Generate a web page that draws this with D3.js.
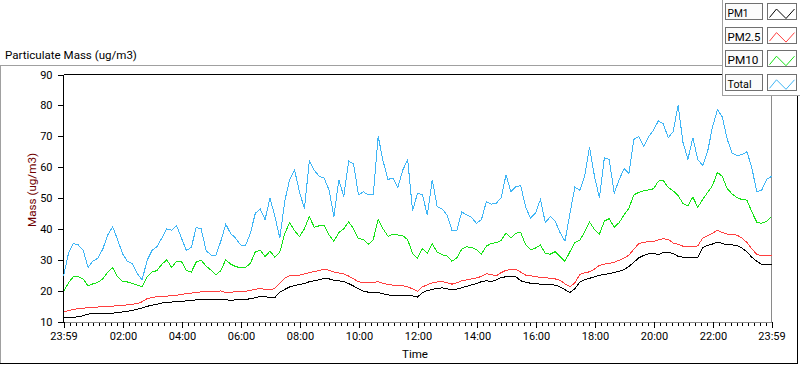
<!DOCTYPE html>
<html><head><meta charset="utf-8">
<script src="https://cdn.jsdelivr.net/npm/d3@7"></script>
<style>
body{margin:0;background:#fff}
svg{display:block}
text{font-family:Roboto,"Liberation Sans",sans-serif;fill:#000}
</style>
</head><body>
<svg id="chart" width="800" height="365"></svg>
<script>
// ---- data (10-minute samples starting at 23:59) ----
const startLabel = "23:59";
const stepMinutes = 10;
const seriesNames = ["PM1", "PM2.5", "PM10", "Total"];
const seriesColors = ["#000000", "#ff3f3f", "#16e316", "#3fb5f5"];
const pm1 = [11.2,11.3,11.4,11.5,11.9,12.4,12.5,12.6,12.6,12.6,12.7,12.9,13.1,13.3,13.6,14,14.4,14.9,15.3,15.6,16,16.1,16.3,16.4,16.5,16.7,16.8,17,17.1,17.1,17.1,17.1,17.1,17,16.9,17,17.1,17.1,17.4,17.7,18.1,18.1,17.6,17.8,19.5,20.4,21.2,21.6,22,22.3,22.9,23.2,23.5,24,23.8,23.4,23.2,22.9,22.3,21.5,20.6,19.8,19.5,19.4,19.4,19,18.6,18.5,18.5,18.5,18.5,18.3,17.9,19.4,20,20.4,20.7,20.9,20.6,20.2,20.5,20.9,21.4,21.9,22.3,22.9,23.2,22.9,23.4,24.2,24.5,24.5,24.5,23.2,22.7,22.4,22.3,22.1,22,21.9,21.8,21.2,20.3,19.4,20.6,22.7,23.5,24,24.5,25,25.2,25.5,25.9,26.2,26.8,27.8,29.2,30.6,31.4,31.9,32.1,31.6,32.4,32.4,32,31.1,30.8,30.6,30.7,30.8,34,34.6,35.1,35.7,35.3,34.8,34.8,34.6,33.8,32.6,30.8,29.5,28.5,28.5,28.5];
const pm25 = [13,13.5,13.9,14.2,14.3,14.5,14.6,14.7,14.9,15,15,15.1,15.2,15.4,15.6,15.8,16.4,17.4,17.8,18,18.2,18.2,18.4,18.5,18.8,19,19.2,19.4,19.6,19.6,19.6,19.7,19.9,19.4,19.5,19.6,19.6,19.8,20.1,20.4,20.7,20.4,20.2,20.8,22.4,24.1,24.8,25,25,25.4,25.8,26.2,26.5,27,26.6,26,25.7,25.4,24.7,23.8,22.9,22.6,22.5,22.6,22.9,22.4,21.9,21.8,21.8,21.6,21.2,20.6,19.8,21.2,21.9,22.5,22.8,22.9,22.6,22.1,22.5,23.2,23.5,23.8,24.1,24.6,25.5,25.2,24.8,25.8,26.6,26.8,26.9,26,25,24.8,24.5,24.3,24.2,24,23.8,23.3,22.2,21.3,22.5,25.2,25.8,26.1,27,28.2,28.6,28.8,29.2,29.8,30.5,31.5,33.4,35.2,35.7,35.8,35.8,36.5,36.8,36.6,35.4,35,34.4,34.2,34.3,34.5,37,37.8,38.6,39.6,38.8,38.3,38.1,38,37,35.6,33.5,31.8,31.3,31.4,31.5];
const pm10 = [19.6,22.5,24.5,24.5,23.8,21.5,22.2,22.7,23.8,26,27.4,24.5,23,22.8,22.3,21.8,21.2,24.5,26,26.5,28.5,30,27.5,29.5,29.4,26.5,26,29.3,29.8,28,26.6,25,26.5,30,28.6,27.8,27.4,27.5,28.8,32.5,33.1,31,32.8,30.8,32.5,38.5,42,39.4,37.5,40,44,40.5,41,41.2,38,36,38.8,40,42.3,40,36.8,36.6,35,36.5,43,40,37.6,38.2,38,37.8,36.5,32,30.5,33.6,32.2,35.2,32.5,31.6,31.3,29.5,30.6,33.4,34.2,34,33.3,31.8,34.4,35.3,35.5,36.2,38.7,37,38.6,38.8,34.8,33.2,33.8,34.8,32,31.8,32.6,31,29.5,32.6,35.5,36.3,39,42.2,39.8,38.3,42.5,43.3,40.5,42,44.5,46.7,51,51.8,52.3,52.6,53,55.5,55.6,53.4,52.3,50.8,48.2,47.5,50.3,47,49.5,51.8,54,58.3,57,53,51.3,50.1,49.5,49.3,45.5,42.2,41.8,42.5,44];
const total = [24.6,32,35.3,34.8,33,27.5,29.6,30.5,33.5,38,40.7,36.5,32,29.5,28.8,25.5,23.5,29.8,33,34.2,37,40,39.6,41,37,33,34,40.5,40,33,31.5,31.5,36,41.5,38.5,37,34.8,34.5,38.5,45,46.5,43,50,44,37,49,56,59,52,46.5,62,59,57,56.5,52.6,44,55.9,50.5,62,61,51,52,51,51,70,62,56,56.5,53.5,59,62.5,45.8,51.6,51,44.5,55.9,47.2,46.5,44.5,39.6,39.5,45.5,44.5,43.7,41.8,43,48.8,48,48.3,50,57.5,52,53.7,54,47,43.5,45.1,49.5,42,44,42.5,38.8,36,45,53.5,52.5,57,66.5,57,50,63,62.5,51.5,55.9,59.5,58,69,69.9,66.7,69.8,72,75,74,69.5,71.5,80,68,62.5,69.5,62.5,60.5,65,73,78.6,76.2,69,64.5,63.8,64,65,59.8,52,52.5,56,57];
const yTicks = [10, 20, 30, 40, 50, 60, 70, 80, 90];
const xTickLabels = ["23:59","02:00","04:00","06:00","08:00","10:00","12:00","14:00","16:00","18:00","20:00","22:00","23:59"];
const chartTitle = "Particulate Mass (ug/m3)";
const yTitle = "Mass (ug/m3)";
const xTitle = "Time";

// ---- layout ----
const svg = d3.select("#chart");
const L = 63.5, R = 771.5, T = 74.5, B = 321.5;

const [sh, sm] = startLabel.split(":").map(Number);
const t0 = new Date(2020, 0, 1, sh, sm);
const tEnd = d3.timeMinute.offset(t0, 1440);
const x = d3.scaleTime().domain([t0, tEnd]).range([L, R]);
const y = d3.scaleLinear().domain([10, 90]).range([B, T]);

function fitText(sel, w) {
  const n = sel.node();
  const fs = parseFloat(sel.attr("font-size"));
  const cur = n.getComputedTextLength();
  if (cur > 0) sel.attr("font-size", (fs * w / cur).toFixed(2));
}
function line(x1, y1, x2, y2, c) {
  svg.append("line").attr("x1", x1).attr("y1", y1).attr("x2", x2).attr("y2", y2)
    .attr("stroke", c).attr("stroke-width", 1).attr("shape-rendering", "crispEdges");
}

// outer frame
line(0, 65.5, 722, 65.5, "#a0a0a0");
line(0.5, 65, 0.5, 364, "#a0a0a0");
line(0, 363.5, 798, 363.5, "#000");
line(797.5, 95, 797.5, 364, "#000");
// legend frame
line(722.5, 0, 722.5, 96, "#a0a0a0");
line(722, 95.5, 800, 95.5, "#a0a0a0");

// title
const tt = svg.append("text").attr("x", 5).attr("y", 58.5).attr("font-size", 12).text(chartTitle);
fitText(tt, 132);

// plot frame
line(L, T, 722, T, "#000");
line(L, T, L, B + 1, "#000");
line(R, 95.5, R, B + 1, "#8a8a8a");
line(L, B + 0.5, R + 0.5, B + 0.5, "#8a8a8a");

// series
const times = total.map((_, i) => d3.timeMinute.offset(t0, i * stepMinutes));
const allSeries = [pm1, pm25, pm10, total];
const gen = d3.line().x((d, i) => x(times[i])).y(d => y(d));
const drawOrder = [3, 2, 1, 0];
drawOrder.forEach(k => {
  svg.append("path").datum(allSeries[k]).attr("d", gen)
    .attr("fill", "none").attr("stroke", seriesColors[k]).attr("stroke-width", 1)
    .attr("shape-rendering", "crispEdges");
});

// y axis
const yAxis = svg.append("g").attr("transform", `translate(${L},0)`)
  .call(d3.axisLeft(y).tickValues(yTicks).tickSize(6).tickPadding(5).tickFormat(d3.format("d")));
yAxis.select(".domain").remove();
yAxis.selectAll("line").attr("stroke", "#000").attr("shape-rendering", "crispEdges");
yAxis.selectAll("text").attr("font-size", 11).attr("font-family", "Roboto").attr("fill", "#000");

// x axis majors
const majors = xTickLabels.map((lab, i) => {
  if (i === 0) return t0;
  if (i === xTickLabels.length - 1) return tEnd;
  const [h, m] = lab.split(":").map(Number);
  return new Date(2020, 0, 2, h, m);
});
const xAxis = svg.append("g").attr("transform", `translate(0,${B + 0.5})`)
  .call(d3.axisBottom(x).tickValues(majors).tickSize(6).tickPadding(4)
    .tickFormat((d, i) => xTickLabels[i]));
xAxis.select(".domain").remove();
xAxis.selectAll("line").attr("stroke", "#000").attr("shape-rendering", "crispEdges");
xAxis.selectAll("text").attr("font-size", 11).attr("font-family", "Roboto").attr("fill", "#000");

// x axis minors (every 12 minutes)
const minors = d3.timeMinute.every(12).range(t0, tEnd)
  .filter(d => majors.every(m => Math.abs(x(d) - x(m)) > 2));
const xMinor = svg.append("g").attr("transform", `translate(0,${B + 1.5})`)
  .call(d3.axisBottom(x).tickValues(minors).tickSize(3).tickFormat(""));
xMinor.select(".domain").remove();
xMinor.selectAll("line").attr("stroke", "#000").attr("shape-rendering", "crispEdges");

// axis titles
const xt = svg.append("text").attr("x", 415).attr("y", 357.5).attr("text-anchor", "middle")
  .attr("font-size", 11).text(xTitle);
fitText(xt, 26);
const yt = svg.append("text").attr("transform", "translate(35.5,190) rotate(-90)")
  .attr("text-anchor", "middle").attr("font-size", 11).style("fill", "#700000").text(yTitle);
fitText(yt, 74);

// legend
const labelW = [21, 33, 31, 24];
seriesNames.forEach((name, i) => {
  const top = 3.5 + i * 23.6;
  svg.append("rect").attr("x", 725.5).attr("y", top).attr("width", 37).attr("height", 16)
    .attr("fill", "#fbfbfb").attr("stroke", "#707070").attr("shape-rendering", "crispEdges");
  svg.append("rect").attr("x", 767.5).attr("y", top).attr("width", 29).attr("height", 16)
    .attr("fill", "#fff").attr("stroke", "#707070").attr("shape-rendering", "crispEdges");
  const lt = svg.append("text").attr("x", 727.5).attr("y", top + 13.5).attr("font-size", 11).text(name);
  fitText(lt, labelW[i]);
  const pts = [[2, 14], [9, 5.5], [18.5, 15], [27, 5.5]].map(p => [767.5 + p[0], top + p[1]]);
  svg.append("path").attr("d", d3.line()(pts)).attr("fill", "none")
    .attr("stroke", seriesColors[i]).attr("stroke-width", 1);
});
</script>
</body></html>
